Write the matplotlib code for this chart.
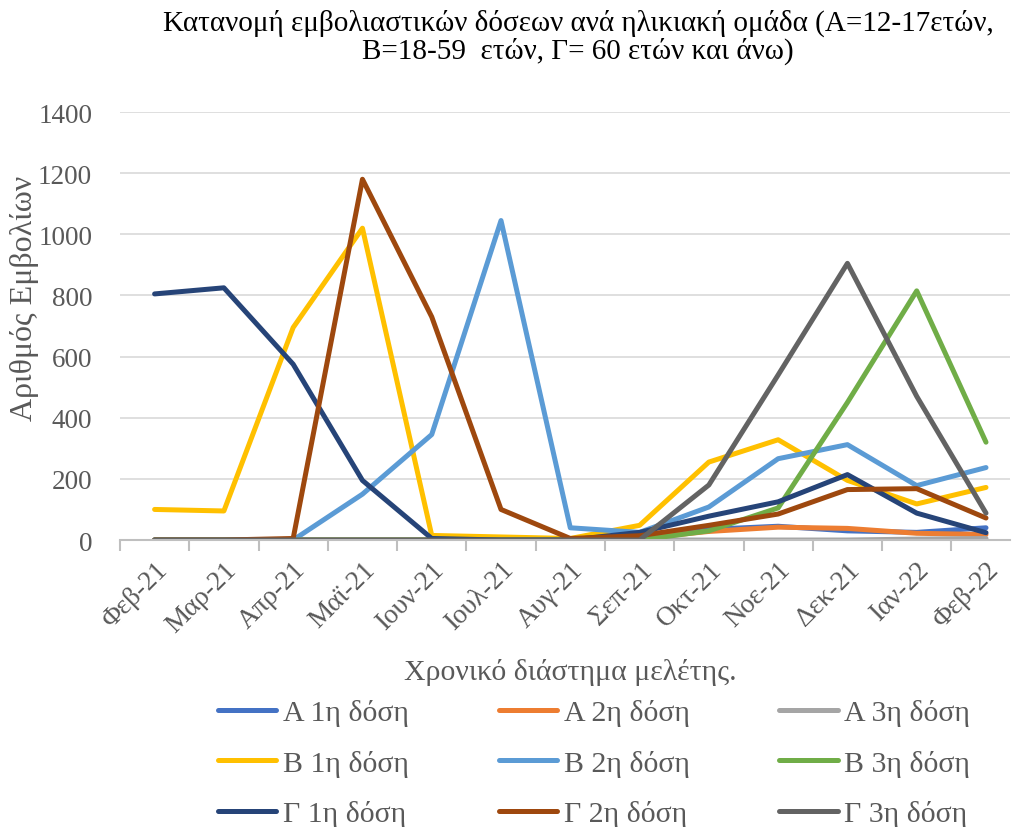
import matplotlib.pyplot as plt

plt.rcParams['font.family'] = ['Liberation Serif', 'DejaVu Serif']

# μήνες
mhnes = ["Φεβ-21", "Μαρ-21", "Απρ-21", "Μαϊ-21", "Ιουν-21", "Ιουλ-21", "Αυγ-21",
         "Σεπ-21", "Οκτ-21", "Νοε-21", "Δεκ-21", "Ιαν-22", "Φεβ-22"]

# ομάδα Α
a_1h = [0, 0, 0, 0, 0, 0, 0, 5, 35, 45, 30, 25, 40]
a_2h = [0, 0, 0, 0, 0, 0, 0, 5, 28, 42, 38, 22, 18]
a_3h = [0, 0, 0, 0, 0, 0, 0, 0, 0, 0, 0, 3, 5]
# ομάδα Β
b_1h = [100, 95, 695, 1020, 15, 10, 5, 48, 255, 328, 195, 118, 172]
b_2h = [0, 0, 0, 150, 345, 1045, 40, 25, 108, 266, 312, 178, 237]
b_3h = [0, 0, 0, 0, 0, 0, 0, 0, 30, 105, 450, 815, 320]
# ομάδα Γ
g_1h = [805, 825, 575, 195, 5, 0, 0, 25, 78, 125, 214, 88, 24]
g_2h = [0, 0, 5, 1180, 730, 100, 5, 14, 48, 85, 165, 168, 72]
g_3h = [0, 0, 0, 0, 0, 0, 0, 0, 180, 540, 905, 470, 88]

seires = [a_1h, a_2h, a_3h, b_1h, b_2h, b_3h, g_1h, g_2h, g_3h]
onomata = ["Α 1η δόση", "Α 2η δόση", "Α 3η δόση",
           "Β 1η δόση", "Β 2η δόση", "Β 3η δόση",
           "Γ 1η δόση", "Γ 2η δόση", "Γ 3η δόση"]
xrwmata = ["#4472C4", "#ED7D31", "#A5A5A5",
           "#FFC000", "#5B9BD5", "#70AD47",
           "#264478", "#9E480E", "#636363"]

fig = plt.figure(figsize=(10.14, 8.28), dpi=100)
ax = fig.add_axes([0.1183, 0.3466, 0.878, 0.5169])

x = list(range(len(mhnes)))
grammes = []
for s, onoma, xr in zip(seires, onomata, xrwmata):
    l, = ax.plot(x, s, color=xr, lw=3.6, label=onoma,
                 solid_joinstyle='round', solid_capstyle='round')
    grammes.append(l)

ax.set_xlim(-0.5, 12.35)
ax.set_ylim(0, 1400)
ax.set_yticks(range(0, 1401, 200))
ax.grid(axis='y', color='#D9D9D9', lw=1.2)
ax.set_axisbelow(True)
for sp in ['top', 'right', 'left']:
    ax.spines[sp].set_visible(False)
ax.spines['bottom'].set_color('#BFBFBF')
ax.spines['bottom'].set_linewidth(1.5)

# υποδιαιρέσεις ανάμεσα στις κατηγορίες
ax.set_xticks([i - 0.5 for i in range(13)], minor=True)
ax.set_xticks(x)
ax.set_xticklabels(mhnes, rotation=45, ha='right', rotation_mode='anchor')
ax.tick_params(axis='x', which='major', length=0, pad=12, labelsize=19.5, colors='#595959')
ax.tick_params(axis='x', which='minor', length=8, color='#BFBFBF', width=1.5)
ax.tick_params(axis='y', length=0, pad=20, labelsize=19.5, colors='#595959')

fig.text(25 / 1014, 1 - 298 / 828, "Αριθμός Εμβολίων", rotation=90, ha='center', va='center',
         fontsize=23, color='#595959')
fig.text(0.562, 0.188, "Χρονικό διάστημα μελέτης.", ha='center', va='center',
         fontsize=21.5, color='#595959')

fig.text(0.57, 0.955, "Κατανομή εμβολιαστικών δόσεων ανά ηλικιακή ομάδα (Α=12-17ετών,\nΒ=18-59  ετών, Γ= 60 ετών και άνω)",
         ha='center', va='center', fontsize=21, linespacing=1.0)

seira = [0, 3, 6, 1, 4, 7, 2, 5, 8]
fig.legend([grammes[i] for i in seira], [onomata[i] for i in seira],
           ncol=3, loc='center', bbox_to_anchor=(0.586, 0.077),
           frameon=False, fontsize=21.5, handlelength=1.95, handletextpad=0.23,
           columnspacing=3.0, labelspacing=0.78, labelcolor='#595959')

plt.savefig("out.png", dpi=100)
